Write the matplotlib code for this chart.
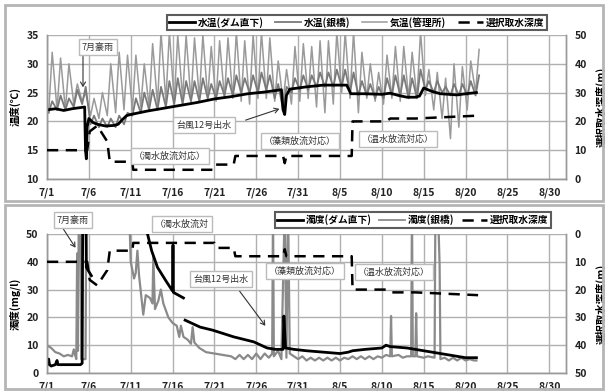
import matplotlib
matplotlib.use("Agg")
import matplotlib.pyplot as plt
import matplotlib.patches as patches
from matplotlib.lines import Line2D
import numpy as np

plt.rcParams['font.family'] = ['Noto Sans CJK JP', 'DejaVu Sans']

# ---------------- data (day 0 = 7/1) ----------------
xtick_days = [0, 5, 10, 15, 20, 25, 30, 35, 40, 45, 50, 55, 60]
xtick_labels = ['7/1', '7/6', '7/11', '7/16', '7/21', '7/26', '7/31',
                '8/5', '8/10', '8/15', '8/20', '8/25', '8/30']

# water temperature below dam
dam_temp_day = [0, 1, 2, 3, 4, 4.5, 4.6, 4.7, 4.8, 5.0, 5.5, 6, 7, 8, 8.5, 9, 9.5, 10,
                12, 14, 16, 18, 20, 22, 24, 26, 27, 28, 28.2, 28.4, 28.6, 29, 30, 31,
                33, 35, 35.8, 36.3, 38, 40, 41, 42, 43, 44, 44.5, 45, 45.5, 46, 47,
                48, 49, 50, 51.3]
dam_temp = [22, 22.2, 21.9, 22.2, 22.4, 22.5, 15, 13.5, 19, 20.5, 19.8, 19.5, 19.2,
            19.3, 19.5, 20.3, 21, 21.2, 21.8, 22.3, 22.8, 23.3, 23.9, 24.3, 24.8,
            25.1, 25.3, 25.5, 22, 21.2, 24.5, 25.6, 25.8, 26, 26.3, 26.3, 26.3, 24.8,
            24.8, 24.7, 24.9, 24.5, 24.2, 24.2, 24.4, 25.8, 25.5, 25.2, 24.8, 24.7,
            24.6, 24.8, 25.0]

# water temperature at Ginbashi: daily max / min
gin_max = [23.5, 24.5, 24, 25.5, 26, 21, 20.5, 20.5, 21, 21.5,
           24, 25, 25.5, 26, 27, 27.5, 27, 27, 27.5, 26.5,
           27, 27.5, 28, 27.5, 28, 28.5, 28, 26.5, 26, 27.5,
           28, 28, 28.5, 28.5, 29, 29, 28.5, 27, 26.5, 26, 27.5,
           28, 28, 27.5, 29, 27, 27, 26, 26.5, 26.5, 27, 28]
gin_min = [21.5, 22, 22, 22.5, 23, 19.5, 19, 19, 19, 19.5,
           21, 21.5, 22, 22, 22.5, 23, 23, 23.5, 23.5, 24,
           24, 24.5, 24.5, 25, 25, 25, 25.5, 24, 22, 25,
           25.5, 25.5, 26, 26, 26, 26, 25, 24.5, 24.5, 24, 24,
           24.5, 24.5, 24, 24, 25.5, 25, 25, 24.5, 24.5, 24.5, 24.5]

# air temperature at office: daily max / min
air_max = [32, 31, 30, 26.5, 25, 24, 25, 30, 32, 31.5,
           31.5, 30, 33.5, 35.5, 35.5, 35, 35, 34.5, 35, 33,
           34, 34.5, 35.5, 34, 35, 35.5, 34.5, 30.5, 29, 33,
           33.5, 33, 34, 34, 35.5, 35.5, 35.5, 32, 30, 28.5, 31.5,
           33, 33, 32, 35.5, 29, 28.5, 27.5, 30, 29.5, 30.5, 32.5]
air_min = [21.5, 22, 22, 23, 23.5, 21, 20.5, 21, 21.5, 22,
           22, 22.5, 22.5, 23, 23.5, 23.5, 24, 23.5, 24, 24,
           23.5, 24, 24, 23.5, 23, 24, 24, 23.5, 23.5, 23,
           23.5, 24, 22.5, 21.5, 23, 25, 24, 21.5, 24, 23.5, 23,
           24, 23.5, 24, 24, 24.5, 22, 20.5, 17, 19, 22, 25]

# selective intake depth (m)
depth_day = [0, 4.8, 5.1, 6.0, 7.2, 7.5, 10.2, 10.3, 20.0, 20.2, 22.3, 22.5,
             28.2, 28.4, 28.6, 36.4, 36.5, 40.5, 41, 43.5, 44, 51.5]
depth = [10, 10, 16.5, 18.5, 13, 6, 6, 3.2, 3.2, 5, 5, 8,
         8, 5.5, 8, 8, 20, 20, 21, 21, 21, 22]

# turbidity below dam (mg/l); nan = no data
dam_turb_day = [0, 0.2, 0.3, 0.5, 1, 1.2, 1.3, 2, 3, 4, 4.2, 4.3, 4.6, 4.7, 5.0, 5.3,
                5.35,
                11.6, 12.5, 13.2, 14.3, 15.0, 15.05, 15.1, 16.3, 16.35,
                16.5, 18.3, 19.8, 22.3, 24.7, 26.3, 27.3, 28.2, 28.3, 28.5, 29.5,
                31, 33, 35, 36, 36.5, 38, 40, 40.5, 41, 43, 44, 45, 46, 47, 48, 49,
                50, 51.3]
dam_turb = [3, 5, 3, 2.5, 3, 4.5, 3, 3, 3, 3, 3.5, 80, 80, 38, 36.5, 35,
            np.nan,
            55, 44, 38, 32.7, 29.5, 46, 29, 27, np.nan,
            19, 16.5, 15.4, 13, 11.2, 9, 8.5, 8.5, 20.5, 9, 8.5,
            8, 7.5, 7, 7.5, 8, 8.5, 9, 10, 9.5, 9, 8.5, 8, 7.5, 7, 6.5, 6,
            5.5, 5.5]

# turbidity at Ginbashi (mg/l)
gin_turb_day = [0, 0.5, 1, 1.5, 2, 2.5, 3, 3.2, 3.4, 3.5, 3.6, 3.7, 3.8, 4.0, 4.1,
                4.6, 4.7,
                9.8, 10.0, 10.4, 10.6, 10.8, 11.0, 11.5, 11.8, 12.3, 12.6, 12.7,
                12.9, 13.3, 13.6, 13.9, 14.5, 15.0, 15.5, 15.8, 16.0, 16.3, 16.8,
                17.2, 17.4, 17.6, 18.2, 19, 20, 21, 22, 22.5, 23, 23.5, 24, 24.5,
                25, 25.5, 26, 26.5, 26.9, 27.0, 27.1, 27.6, 28.0, 28.4, 28.6, 28.8,
                29.0, 29.5, 30, 30.5, 31, 31.5, 32, 32.5, 33, 33.5, 34, 34.5, 35,
                35.5, 36, 36.5, 37, 37.5, 38, 38.5, 39, 39.5, 40, 40.5, 41.0, 41.1,
                41.2, 42, 42.5, 43, 43.5, 43.6, 43.7, 44.0, 44.1, 44.2, 45, 45.5,
                46.3, 46.4, 46.7, 46.9, 47.0, 47.5, 48, 48.5, 49, 49.5, 50, 50.5,
                51, 51.3]
gin_turb = [10, 9, 7.5, 7, 6, 6.5, 6, 8.5, 6, 5, 43, 8, 60, 60, 5,
            5, 60,
            60, 40, 34, 36, 44, 35, 21, 28, 27, 25, 42,
            23, 26, 30, 25, 20, 18, 17, 13, 17, 13, 12,
            10.5, 16.5, 11, 9, 7.5, 7, 6.5, 6, 5, 6.5, 5, 6.5, 5,
            7, 5, 7, 5.5, 7, 60, 6, 8, 5, 60, 5.5, 60,
            7, 6, 5, 6, 4.5, 5.5, 4.5, 5.5, 4.5, 5.5, 4.5, 5.5, 4.5,
            5.5, 5, 6, 5, 6, 5, 6, 5, 6, 5.5, 6.5, 6, 20.5,
            6, 6.5, 5.5, 6, 6, 60, 6, 6, 21.5, 6, 5.5, 6,
            5.5, 60, 60, 39, 5, 5.5, 4.5, 5.5, 4.5, 5.5, 4.5, 5,
            4.5, 4.5]

# ---------------- build daily cycle series from max / min ----------------
def cycle(mins, maxs):
    t, v = [], []
    for d, (lo, hi) in enumerate(zip(mins, maxs)):
        t += [d + 0.2, d + 0.62]
        v += [lo, hi]
    return t, v

air_t, air_v = cycle(air_min, air_max)
gin_t, gin_v = cycle(gin_min, gin_max)

W, H = 605, 391
def fx(x):
    return x / W
def fy(y):
    return 1 - y / H

fig = plt.figure(figsize=(W / 100, H / 100), dpi=100)

# panel frames
for (x0, y0, x1, y1) in [(5, 5, 603, 201), (5, 205, 603, 389)]:
    fig.patches.append(patches.Rectangle((fx(x0), fy(y1)), fx(x1 - x0), (y1 - y0) / H,
                                         transform=fig.transFigure, fill=False,
                                         edgecolor='#b5b5b5', lw=2))

grid_c = '#b0b0b0'
tick_kw = dict(fontsize=7.5, fontweight='bold', color='#222222')

def style_axes(ax, axr, ylim, yticks, rlim, rticks):
    ax.set_xlim(0, 62)
    ax.set_ylim(*ylim)
    ax.set_yticks(yticks)
    ax.set_xticks(xtick_days)
    ax.set_xticklabels(xtick_labels, **tick_kw)
    ax.set_yticklabels([str(t) for t in yticks], **tick_kw)
    ax.grid(True, color=grid_c, lw=1)
    ax.set_axisbelow(True)
    axr.set_ylim(*rlim)
    axr.set_yticks(rticks)
    axr.set_yticklabels([str(t) for t in rticks], **tick_kw)
    for a in (ax, axr):
        a.tick_params(length=0, pad=6)
        for s in a.spines.values():
            s.set_color('#999999')
            s.set_linewidth(1)
        a.spines['top'].set_visible(False)

# ---------------- top panel ----------------
ax1 = fig.add_axes([fx(47), fy(179), fx(519), 144 / H])
ax1r = ax1.twinx()
style_axes(ax1, ax1r, (10, 35), [10, 15, 20, 25, 30, 35], (0, 50), [0, 10, 20, 30, 40, 50])
ax1.plot(air_t, air_v, color='#9a9a9a', lw=1.1, clip_on=True, zorder=2)
ax1.plot(gin_t, gin_v, color='#7a7a7a', lw=1.3, zorder=3)
ax1.plot(dam_temp_day, dam_temp, color='black', lw=2.0, zorder=4)
ax1r.plot(depth_day, depth, color='black', lw=1.8, dashes=(4.5, 3), zorder=5)

ax1.set_ylabel('温度(℃)', fontsize=7.5, fontweight='bold', labelpad=4)
ax1r.set_ylabel('選択取水深度(m)', fontsize=7.5, fontweight='bold', labelpad=6)

h1 = [Line2D([], [], color='black', lw=2),
      Line2D([], [], color='#7a7a7a', lw=1.3),
      Line2D([], [], color='#9a9a9a', lw=1.1),
      Line2D([], [], color='black', lw=1.8, dashes=(4.5, 3))]
l1 = ['水温(ダム直下)', '水温(銀橋)', '気温(管理所)', '選択取水深度']
leg1 = fig.legend(h1, l1, ncol=4, loc='center', bbox_to_anchor=(fx(357), fy(22.5)),
                  frameon=True, fancybox=False, edgecolor='#333333', fontsize=7,
                  prop={'weight': 'bold', 'size': 7}, handlelength=2.6,
                  columnspacing=1.2, handletextpad=0.3, borderpad=0.25)
leg1.get_frame().set_linewidth(1.5)

# ---------------- bottom panel ----------------
ax2 = fig.add_axes([fx(47), fy(373), fx(519), 139 / H])
ax2r = ax2.twinx()
style_axes(ax2, ax2r, (0, 50), [0, 10, 20, 30, 40, 50], (50, 0), [0, 10, 20, 30, 40, 50])
ax2.plot(gin_turb_day, gin_turb, color='#8a8a8a', lw=1.6, zorder=3)
ax2.plot(dam_turb_day, dam_turb, color='black', lw=2.0, zorder=4)
ax2r.plot(depth_day, depth, color='black', lw=1.8, dashes=(4.5, 3), zorder=5)

ax2.set_ylabel('濁度(mg/l)', fontsize=7.5, fontweight='bold', labelpad=4)
ax2r.set_ylabel('選択取水深度(m)', fontsize=7.5, fontweight='bold', labelpad=6)

h2 = [Line2D([], [], color='black', lw=2),
      Line2D([], [], color='#8a8a8a', lw=1.3),
      Line2D([], [], color='black', lw=1.8, dashes=(4.5, 3))]
l2 = ['濁度(ダム直下)', '濁度(銀橋)', '選択取水深度']
leg2 = fig.legend(h2, l2, ncol=3, loc='center', bbox_to_anchor=(fx(413), fy(220)),
                  frameon=True, fancybox=False, edgecolor='#333333',
                  prop={'weight': 'bold', 'size': 7}, handlelength=2.6,
                  columnspacing=0.8, handletextpad=0.3, borderpad=0.25)
leg2.get_frame().set_linewidth(1.5)

# ---------------- annotation boxes ----------------
box_kw = dict(boxstyle='square,pad=0.35', facecolor='white', edgecolor='#bbbbbb', lw=1)

def label(x, y, s):
    fig.text(fx(x), fy(y), s, ha='center', va='center', fontsize=6.5,
             color='#333333', bbox=box_kw, zorder=10)

def arrow(x0, y0, x1, y1):
    fig.add_artist(patches.FancyArrowPatch((fx(x0), fy(y0)), (fx(x1), fy(y1)),
                                           transform=fig.transFigure,
                                           arrowstyle='->,head_length=3,head_width=1.8',
                                           color='#333333', lw=0.8, zorder=9))

label(98, 47, '7月豪雨')
arrow(83, 53, 83, 90)
label(204, 125, '台風12号出水')
arrow(243, 121, 282, 108)
label(170, 156, '（濁水放流対応）')
label(300, 141, '（藻類放流対応）')
label(398, 139, '（温水放流対応）')

label(73, 220, '7月豪雨')
arrow(62, 227, 77, 250)
label(182, 224, '（濁水放流対')
label(221, 279, '台風12号出水')
arrow(238, 289, 267, 328)
label(305, 271, '（藻類放流対応）')
label(394, 272, '（温水放流対応）')

fig.savefig('out.png', dpi=100)
